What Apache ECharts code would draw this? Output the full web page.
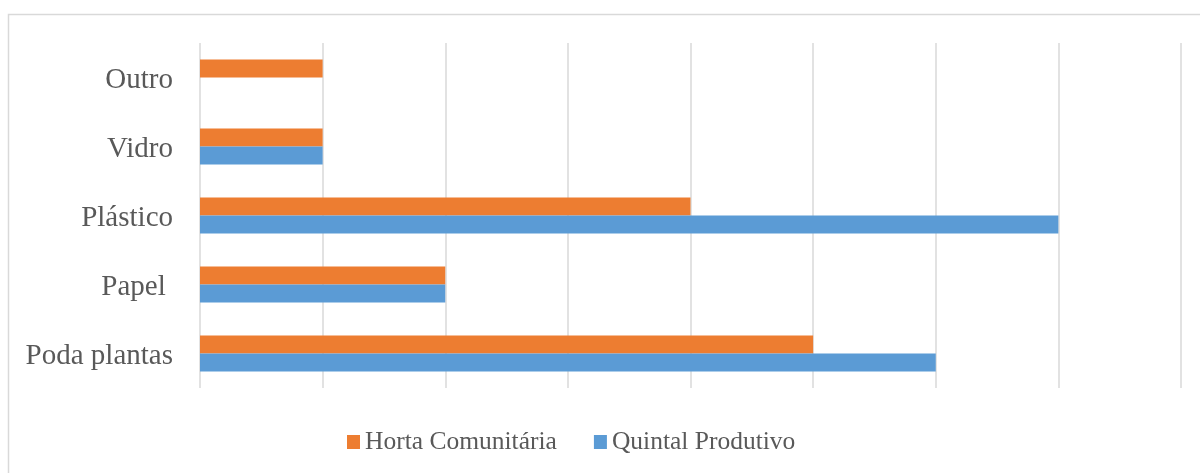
<!DOCTYPE html>
<html>
<head>
<meta charset="utf-8">
<script src="https://cdn.jsdelivr.net/npm/echarts@6/dist/echarts.min.js"></script>
<style>html,body{margin:0;padding:0;background:#fff}#c{width:1200px;height:473px}</style>
</head>
<body>
<div id="c"></div>
<script>
var categories = ['Poda plantas', 'Papel ', 'Plástico', 'Vidro', 'Outro'];
var hortaValues = [5, 2, 4, 1, 1];
var quintalValues = [6, 2, 7, 1, null];
var seriesNames = ['Horta Comunitária', 'Quintal Produtivo'];

var chart = echarts.init(document.getElementById('c'), null, {renderer: 'canvas'});
chart.setOption({
  animation: false,
  backgroundColor: '#fff',
  graphic: [{
    type: 'rect',
    shape: {x: 8.5, y: 14.5, width: 1300, height: 600},
    style: {fill: 'none', stroke: '#d9d9d9', lineWidth: 1.5},
    silent: true
  }],
  grid: {left: 200, right: 19, top: 43, bottom: 85, containLabel: false},
  legend: {
    data: [
      {name: seriesNames[0], itemStyle: {color: '#ED7D31'}},
      {name: seriesNames[1], itemStyle: {color: '#5B9BD5'}}
    ],
    left: 342,
    top: 424,
    itemWidth: 13,
    itemHeight: 14,
    itemGap: 37,
    icon: 'rect',
    textStyle: {fontFamily: 'Liberation Serif', fontSize: 25.5, color: '#595959'}
  },
  xAxis: {
    type: 'value',
    min: 0, max: 8, interval: 1,
    axisLabel: {show: false},
    axisLine: {show: false},
    axisTick: {show: false},
    splitLine: {show: true, lineStyle: {color: '#d9d9d9', width: 1.5}}
  },
  yAxis: {
    type: 'category',
    data: categories,
    axisLine: {show: false},
    axisTick: {show: false},
    axisLabel: {
      margin: 27,
      formatter: function (v) { return '{a|' + v + '}'; },
      rich: {a: {fontFamily: 'Liberation Serif', fontSize: 29, color: '#595959', padding: [6, 0, 0, 0]}}
    }
  },
  series: [
    {name: seriesNames[0], type: 'bar', data: hortaValues, barWidth: 18, barGap: '0%', itemStyle: {color: '#ED7D31'}},
    {name: seriesNames[1], type: 'bar', data: quintalValues, barWidth: 18, barGap: '0%', itemStyle: {color: '#5B9BD5'}}
  ]
});
</script>
</body>
</html>
